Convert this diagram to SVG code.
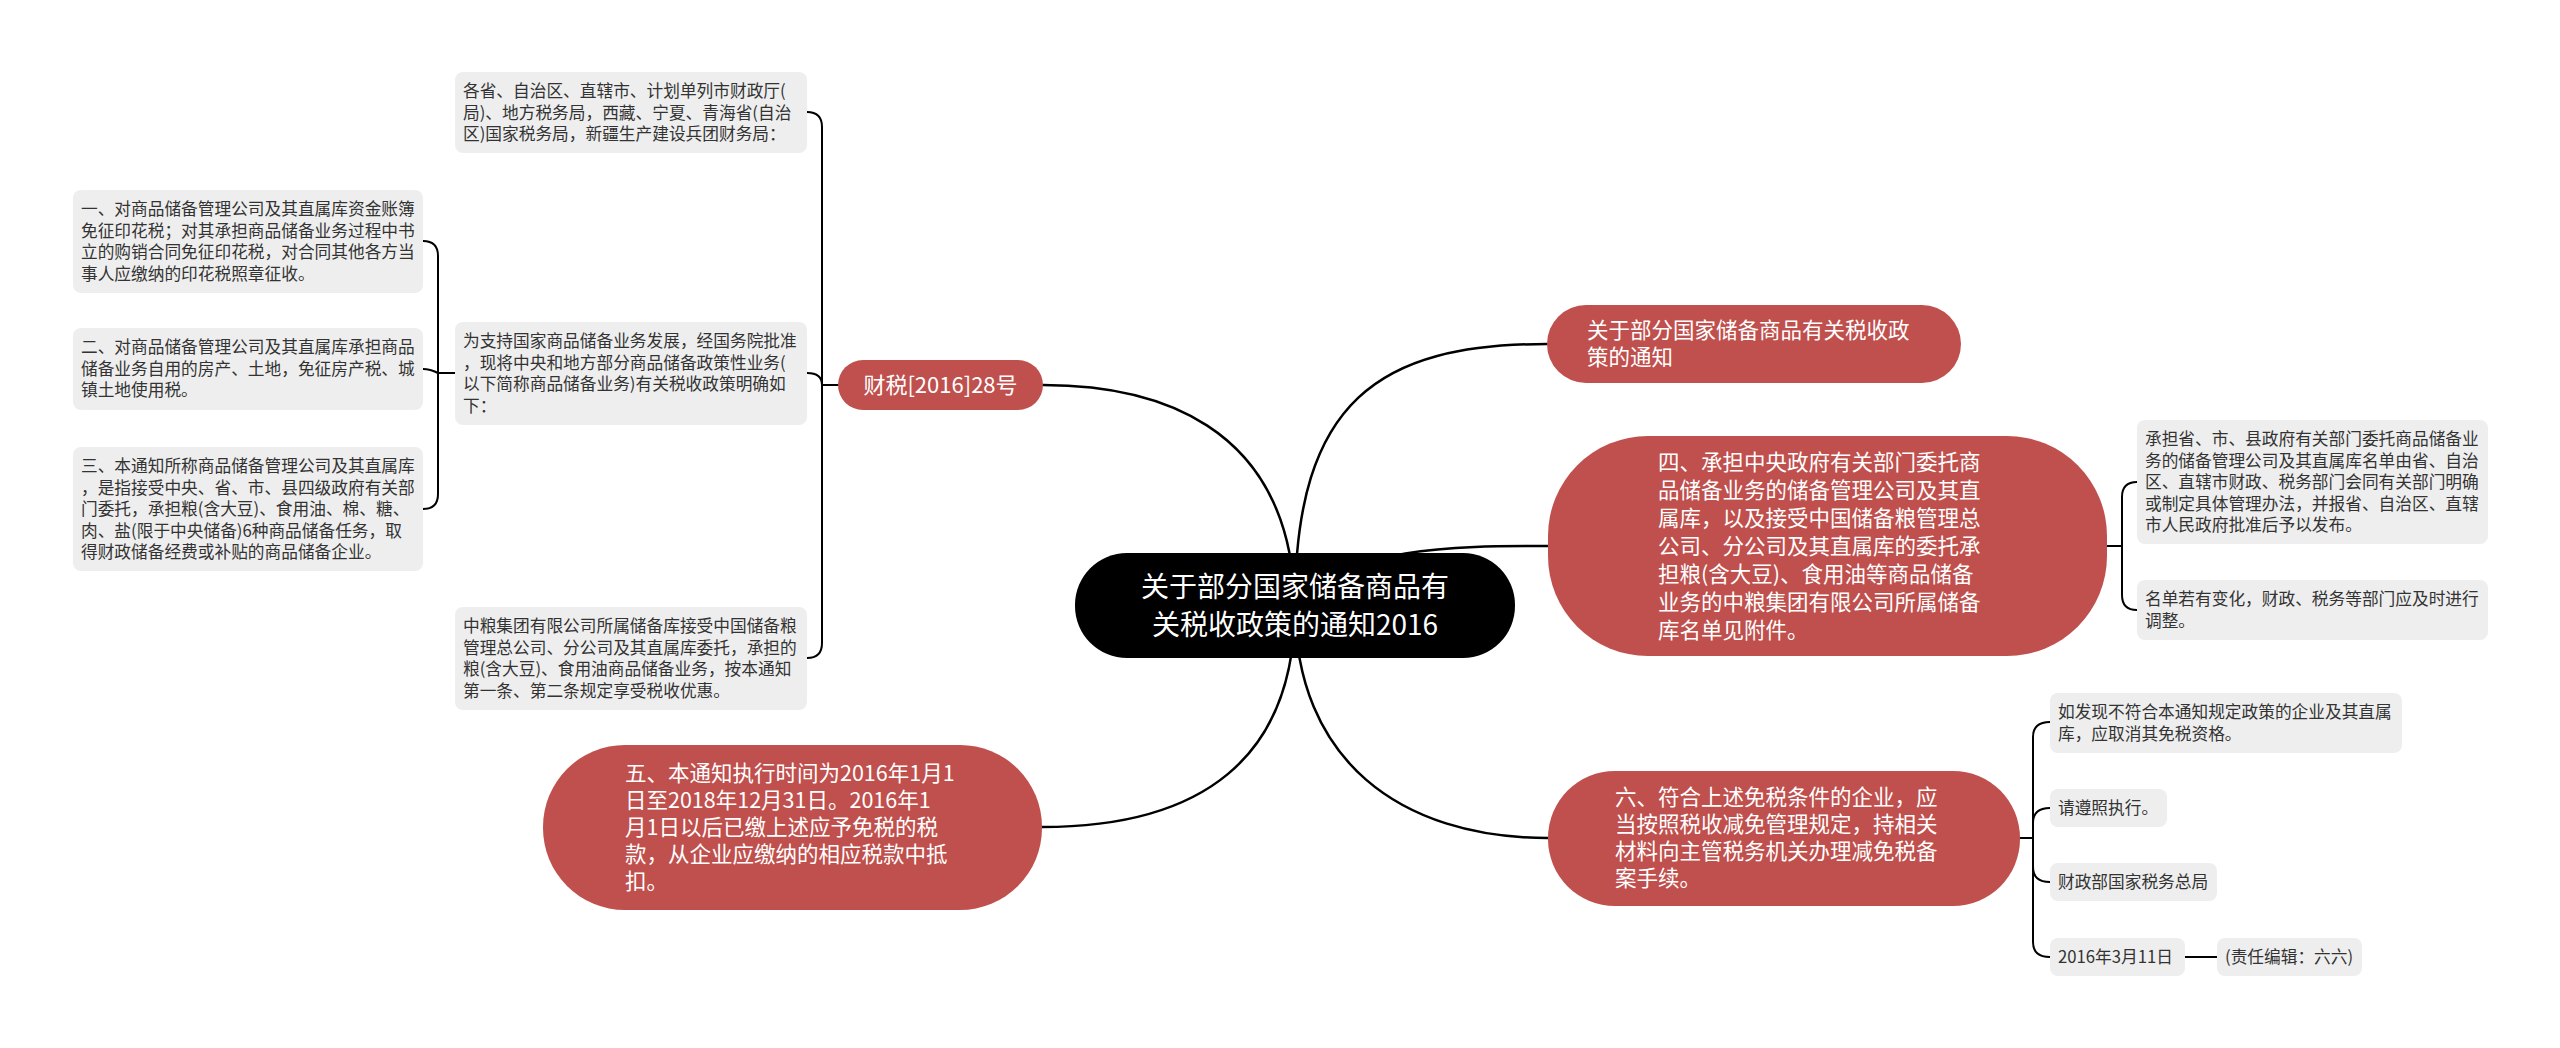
<svg xmlns="http://www.w3.org/2000/svg" width="2560" height="1048" viewBox="0 0 2560 1048">
<style>
  .bg { fill: #ffffff; }
  .ln { fill: none; stroke: #000000; stroke-width: 2.5; stroke-linecap: round; }
  .ln2 { fill: none; stroke: #000000; stroke-width: 2; stroke-linecap: round; }
  .gbox { fill: #eeeeee; }
  .red { fill: #c0504d; }
  .root { fill: #000000; }
  .gt { font-family: "Noto Sans CJK SC", "Microsoft YaHei", sans-serif; font-size: 16.7px; fill: #333333; }
  .rt { font-family: "Noto Sans CJK SC", "Microsoft YaHei", sans-serif; font-size: 21.5px; fill: #ffffff; }
  .ct { font-family: "Noto Sans CJK SC", "Microsoft YaHei", sans-serif; font-size: 28px; fill: #ffffff; text-anchor: middle; }
  .mt { font-family: "Noto Sans CJK SC", "Microsoft YaHei", sans-serif; font-size: 22px; fill: #ffffff; text-anchor: middle; }
</style>
<rect class="bg" x="0" y="0" width="2560" height="1048"/>

<g id="connectors">
  <path class="ln" d="M 1295 605 C 1290 420, 1150 385, 1043 385"/>
  <path class="ln" d="M 1295 605 C 1295 400, 1380 344, 1547 344"/>
  <path class="ln" d="M 1295 605 C 1350 546, 1450 546, 1548 546"/>
  <path class="ln" d="M 1295 605 C 1295 760, 1200 827, 1042 827"/>
  <path class="ln" d="M 1295 605 C 1295 760, 1400 838, 1548 838"/>

  <path class="ln2" d="M 838 385 H 822 V 127 Q 822 112 807 112"/>
  <path class="ln2" d="M 838 385 H 822 Q 822 373 807 373"/>
  <path class="ln2" d="M 838 385 H 822 V 643 Q 822 658 807 658"/>

  <path class="ln2" d="M 455 373 H 438 V 256 Q 438 241 423 241"/>
  <path class="ln2" d="M 455 373 H 438 Q 430 369 423 369"/>
  <path class="ln2" d="M 455 373 H 438 V 494 Q 438 509 423 509"/>

  <path class="ln2" d="M 2107 546 H 2122 V 497 Q 2122 482 2137 482"/>
  <path class="ln2" d="M 2107 546 H 2122 V 595 Q 2122 610 2137 610"/>

  <path class="ln2" d="M 2020 838 H 2033 V 737 Q 2033 722 2050 722"/>
  <path class="ln2" d="M 2020 838 H 2033 V 823 Q 2033 808 2050 808"/>
  <path class="ln2" d="M 2020 838 H 2033 V 867 Q 2033 882 2050 882"/>
  <path class="ln2" d="M 2020 838 H 2033 V 942 Q 2033 957 2050 957"/>
  <path class="ln2" d="M 2185 957 H 2217"/>
</g>

<g id="root">
  <rect class="root" x="1075" y="553" width="440" height="105" rx="52"/>
  <text class="ct" x="1295" y="597">关于部分国家储备商品有</text>
  <text class="ct" x="1295" y="635">关税收政策的通知2016</text>
</g>

<g id="n-caishui">
  <rect class="red" x="838" y="360" width="205" height="50" rx="25"/>
  <text class="mt" x="940.5" y="393">财税[2016]28号</text>
</g>

<g id="n-gesheng">
  <rect class="gbox" x="455" y="72" width="352" height="81" rx="8"/>
  <text class="gt" x="463" y="97">各省、自治区、直辖市、计划单列市财政厅(</text>
  <text class="gt" x="463" y="118.5">局)、地方税务局，西藏、宁夏、青海省(自治</text>
  <text class="gt" x="463" y="140">区)国家税务局，新疆生产建设兵团财务局：</text>
</g>

<g id="n-weizhichi">
  <rect class="gbox" x="455" y="322" width="352" height="103" rx="8"/>
  <text class="gt" x="463" y="347">为支持国家商品储备业务发展，经国务院批准</text>
  <text class="gt" x="463" y="368.5">，现将中央和地方部分商品储备政策性业务(</text>
  <text class="gt" x="463" y="390">以下简称商品储备业务)有关税收政策明确如</text>
  <text class="gt" x="463" y="411.5">下：</text>
</g>

<g id="n-zhongliang">
  <rect class="gbox" x="455" y="607" width="352" height="103" rx="8"/>
  <text class="gt" x="463" y="632">中粮集团有限公司所属储备库接受中国储备粮</text>
  <text class="gt" x="463" y="653.5">管理总公司、分公司及其直属库委托，承担的</text>
  <text class="gt" x="463" y="675">粮(含大豆)、食用油商品储备业务，按本通知</text>
  <text class="gt" x="463" y="696.5">第一条、第二条规定享受税收优惠。</text>
</g>

<g id="n-yi">
  <rect class="gbox" x="73" y="190" width="350" height="103" rx="8"/>
  <text class="gt" x="81" y="215">一、对商品储备管理公司及其直属库资金账簿</text>
  <text class="gt" x="81" y="236.5">免征印花税；对其承担商品储备业务过程中书</text>
  <text class="gt" x="81" y="258">立的购销合同免征印花税，对合同其他各方当</text>
  <text class="gt" x="81" y="279.5">事人应缴纳的印花税照章征收。</text>
</g>

<g id="n-er">
  <rect class="gbox" x="73" y="328" width="350" height="82" rx="8"/>
  <text class="gt" x="81" y="353">二、对商品储备管理公司及其直属库承担商品</text>
  <text class="gt" x="81" y="374.5">储备业务自用的房产、土地，免征房产税、城</text>
  <text class="gt" x="81" y="396">镇土地使用税。</text>
</g>

<g id="n-san">
  <rect class="gbox" x="73" y="447" width="350" height="124" rx="8"/>
  <text class="gt" x="81" y="472">三、本通知所称商品储备管理公司及其直属库</text>
  <text class="gt" x="81" y="493.5">，是指接受中央、省、市、县四级政府有关部</text>
  <text class="gt" x="81" y="515">门委托，承担粮(含大豆)、食用油、棉、糖、</text>
  <text class="gt" x="81" y="536.5">肉、盐(限于中央储备)6种商品储备任务，取</text>
  <text class="gt" x="81" y="558">得财政储备经费或补贴的商品储备企业。</text>
</g>

<g id="n-guanyu">
  <rect class="red" x="1547" y="305" width="414" height="78" rx="39"/>
  <text class="rt" x="1587" y="338">关于部分国家储备商品有关税收政</text>
  <text class="rt" x="1587" y="365">策的通知</text>
</g>

<g id="n-si">
  <rect class="red" x="1548" y="436" width="559" height="220" rx="100"/>
  <text class="rt" x="1658" y="470">四、承担中央政府有关部门委托商</text>
  <text class="rt" x="1658" y="498">品储备业务的储备管理公司及其直</text>
  <text class="rt" x="1658" y="526">属库，以及接受中国储备粮管理总</text>
  <text class="rt" x="1658" y="554">公司、分公司及其直属库的委托承</text>
  <text class="rt" x="1658" y="582">担粮(含大豆)、食用油等商品储备</text>
  <text class="rt" x="1658" y="610">业务的中粮集团有限公司所属储备</text>
  <text class="rt" x="1658" y="638">库名单见附件。</text>
</g>

<g id="n-r1">
  <rect class="gbox" x="2137" y="420" width="351" height="124" rx="8"/>
  <text class="gt" x="2145" y="445">承担省、市、县政府有关部门委托商品储备业</text>
  <text class="gt" x="2145" y="466.5">务的储备管理公司及其直属库名单由省、自治</text>
  <text class="gt" x="2145" y="488">区、直辖市财政、税务部门会同有关部门明确</text>
  <text class="gt" x="2145" y="509.5">或制定具体管理办法，并报省、自治区、直辖</text>
  <text class="gt" x="2145" y="531">市人民政府批准后予以发布。</text>
</g>

<g id="n-r2">
  <rect class="gbox" x="2137" y="580" width="351" height="60" rx="8"/>
  <text class="gt" x="2145" y="605">名单若有变化，财政、税务等部门应及时进行</text>
  <text class="gt" x="2145" y="626.5">调整。</text>
</g>

<g id="n-wu">
  <rect class="red" x="543" y="745" width="499" height="165" rx="82"/>
  <text class="rt" x="625" y="781">五、本通知执行时间为2016年1月1</text>
  <text class="rt" x="625" y="808">日至2018年12月31日。2016年1</text>
  <text class="rt" x="625" y="835">月1日以后已缴上述应予免税的税</text>
  <text class="rt" x="625" y="862">款，从企业应缴纳的相应税款中抵</text>
  <text class="rt" x="625" y="889">扣。</text>
</g>

<g id="n-liu">
  <rect class="red" x="1548" y="771" width="472" height="135" rx="67"/>
  <text class="rt" x="1615" y="805">六、符合上述免税条件的企业，应</text>
  <text class="rt" x="1615" y="832">当按照税收减免管理规定，持相关</text>
  <text class="rt" x="1615" y="859">材料向主管税务机关办理减免税备</text>
  <text class="rt" x="1615" y="886">案手续。</text>
</g>

<g id="n-s1">
  <rect class="gbox" x="2050" y="693" width="352" height="60" rx="8"/>
  <text class="gt" x="2058" y="718">如发现不符合本通知规定政策的企业及其直属</text>
  <text class="gt" x="2058" y="739.5">库，应取消其免税资格。</text>
</g>

<g id="n-s2">
  <rect class="gbox" x="2050" y="789" width="117" height="38" rx="8"/>
  <text class="gt" x="2058" y="814">请遵照执行。</text>
</g>

<g id="n-s3">
  <rect class="gbox" x="2050" y="863" width="167" height="38" rx="8"/>
  <text class="gt" x="2058" y="888">财政部国家税务总局</text>
</g>

<g id="n-s4">
  <rect class="gbox" x="2050" y="938" width="135" height="38" rx="8"/>
  <text class="gt" x="2058" y="963">2016年3月11日</text>
</g>

<g id="n-s5">
  <rect class="gbox" x="2217" y="938" width="145" height="38" rx="8"/>
  <text class="gt" x="2225" y="963">(责任编辑：六六)</text>
</g>
</svg>
